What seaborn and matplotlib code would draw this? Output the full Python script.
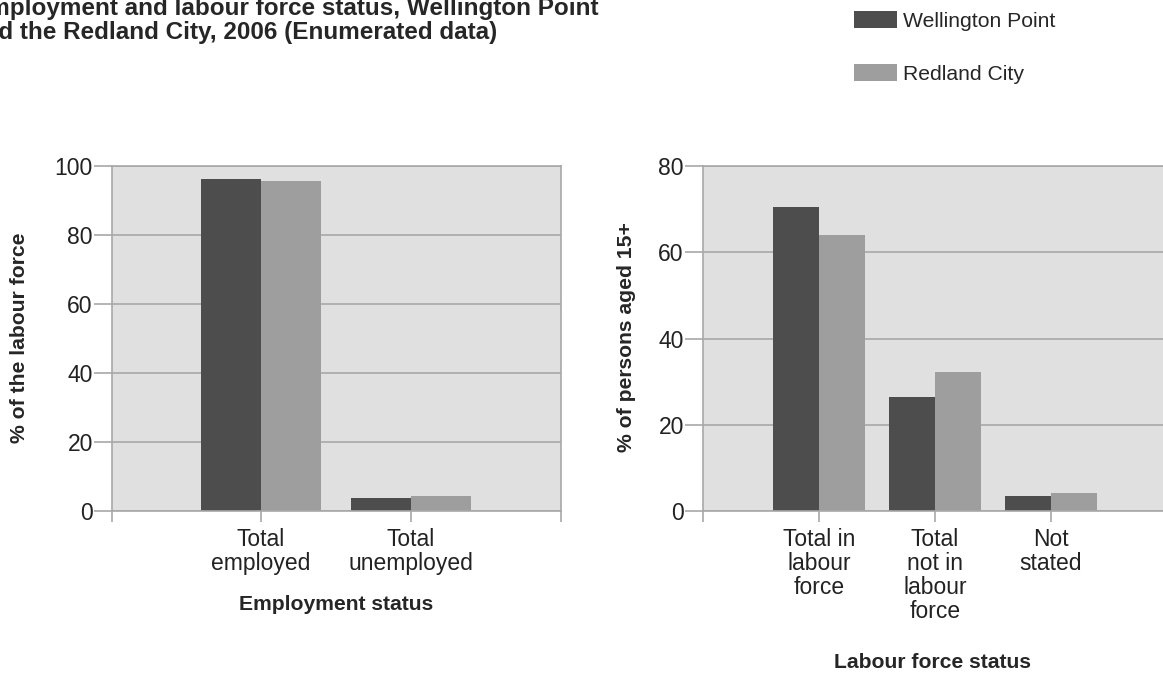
import numpy as np
import pandas as pd
import seaborn as sns
import matplotlib.pyplot as plt

areas = ['Wellington Point', 'Redland City']
colours = ['#4d4d4d', '#9e9e9e']

employment_status = ['Total\nemployed', 'Total\nunemployed']
employment_wp = [96.1, 3.9]
employment_rc = [95.7, 4.3]

labour_status = ['Total in\nlabour\nforce', 'Total\nnot in\nlabour\nforce', 'Not\nstated']
labour_wp = [70.5, 26.4, 3.4]
labour_rc = [64.0, 32.3, 4.1]


def long_form(status, wp, rc) -> pd.DataFrame:
    return pd.DataFrame({
        'status': status * 2,
        'pct': wp + rc,
        'area': [areas[0]] * len(status) + [areas[1]] * len(status),
    })


def style_axis(ax, ylim, yticks, xlim, ylabel, xlabel, xlabel_xy, ylabel_x):
    ax.set_facecolor('#e0e0e0')
    ax.set_ylim(*ylim)
    ax.set_yticks(yticks)
    ax.set_xlim(*xlim)
    ax.set_xticks(list(xlim), minor=True)
    ax.grid(axis='y', color='#a8a8a8', linewidth=1.2)
    ax.grid(axis='x', visible=False)
    ax.set_axisbelow(True)
    for s in ax.spines.values():
        s.set_color('#a8a8a8')
        s.set_linewidth(1.2)
    ax.tick_params(axis='both', which='both', bottom=True, left=True,
                   color='#a8a8a8', width=1.2,
                   labelsize=16.5, labelcolor='#222222')
    ax.tick_params(axis='x', which='both', length=8, pad=4.1)
    ax.tick_params(axis='y', which='both', length=13, pad=0.8)
    ax.set_ylabel(ylabel, fontsize=15.2, fontweight='bold')
    ax.set_xlabel(xlabel, fontsize=15.2, fontweight='bold')
    # put the axis titles where the reference has them (pixel coords)
    ax.xaxis.set_label_coords(xlabel_xy[0] / 1163, 1 - xlabel_xy[1] / 675, transform=fig.transFigure)
    ax.yaxis.set_label_coords(ylabel_x / 1163, 0.5, transform=fig.transFigure)
    ax.xaxis.label.set_va('center')
    ax.yaxis.label.set_va('center')
    for t in ax.get_xticklabels():
        t.set_linespacing(1.05)
    if ax.get_legend() is not None:
        ax.get_legend().remove()


sns.set_theme(style='white')
plt.rcParams['font.family'] = ['Liberation Sans', 'DejaVu Sans']

fig = plt.figure(figsize=(11.63, 6.75), dpi=100)
ax1 = fig.add_axes([112 / 1163, 1 - 511 / 675, 449 / 1163, 345 / 675])
ax2 = fig.add_axes([703 / 1163, 1 - 511 / 675, 464 / 1163, 345 / 675])

sns.barplot(data=long_form(employment_status, employment_wp, employment_rc),
            x='status', y='pct', hue='area', palette=colours, width=0.8,
            saturation=1, linewidth=0, ax=ax1)
sns.barplot(data=long_form(labour_status, labour_wp, labour_rc),
            x='status', y='pct', hue='area', palette=colours, width=0.8,
            saturation=1, linewidth=0, ax=ax2)

handles, labels = ax1.get_legend_handles_labels()

style_axis(ax1, (0, 100), [0, 20, 40, 60, 80, 100], (-0.99, 2.0),
           '% of the labour force', 'Employment status', (336, 604), 20)
style_axis(ax2, (0, 80), [0, 20, 40, 60, 80], (-1.0, 3.0),
           '% of persons aged 15+', 'Labour force status', (933, 662), 627)

fig.legend(handles, labels, loc='upper left', bbox_to_anchor=(846 / 1163, 1 - 3 / 675),
           frameon=False, fontsize=15.2, handlelength=2.0, handleheight=0.85,
           labelspacing=1.55, handletextpad=0.3, borderaxespad=0)

fig.text(598 / 1163, 1 - 9 / 675, 'Employment and labour force status, Wellington Point',
         ha='right', va='center', fontsize=17.5, fontweight='bold')
fig.text(497 / 1163, 1 - 33 / 675, 'and the Redland City, 2006 (Enumerated data)',
         ha='right', va='center', fontsize=17.5, fontweight='bold')

fig.savefig('out.png', dpi=100, facecolor='white')
